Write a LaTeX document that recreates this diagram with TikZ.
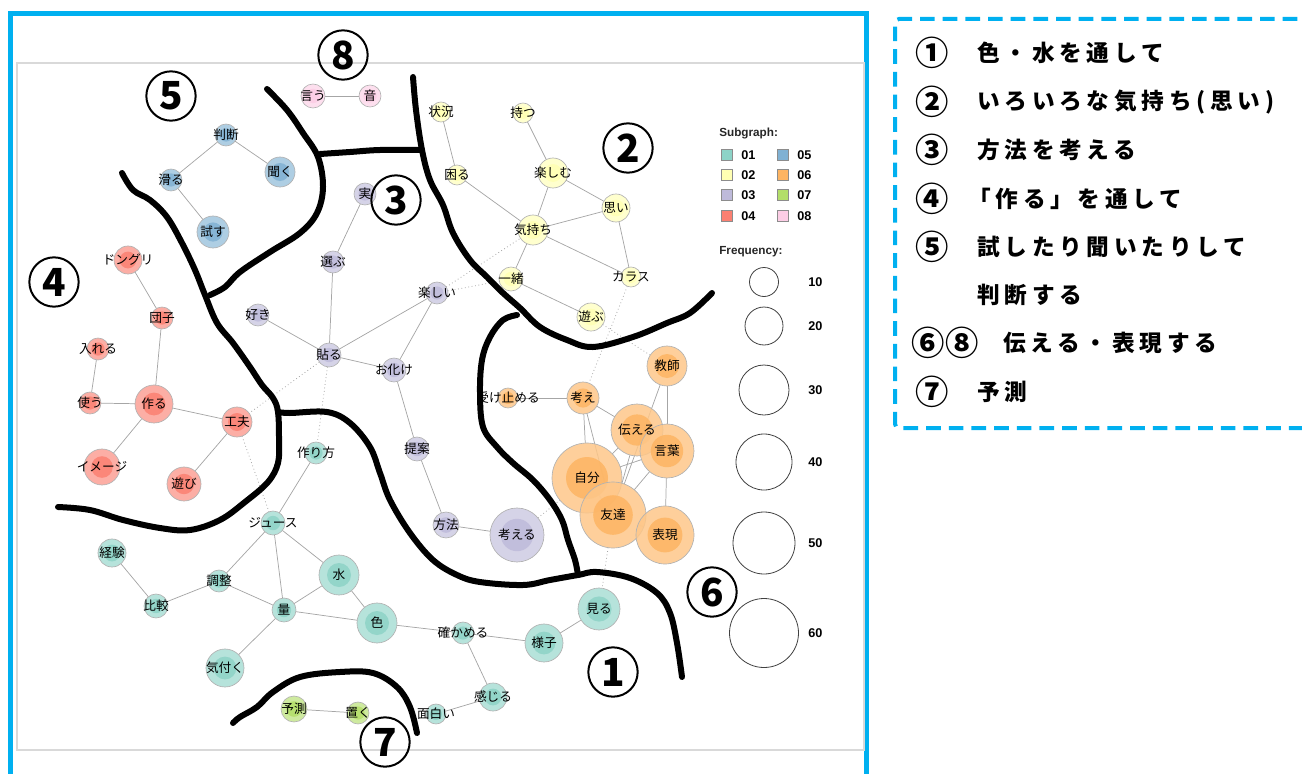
\documentclass[tikz,border=0pt]{standalone}
\usepackage{fontspec}
\setmainfont{Liberation Sans}
\newfontfamily\jp{Noto Sans CJK JP}
\newfontfamily\boxfont{Noto Sans CJK JP}[LetterSpace=21]
\newfontfamily\lgfont{Liberation Sans}
\usetikzlibrary{backgrounds}
\definecolor{frameblue}{HTML}{00B0F0}
\definecolor{c01}{HTML}{8DD3C7}
\definecolor{c02}{HTML}{FFFFB3}
\definecolor{c03}{HTML}{BEBADA}
\definecolor{c04}{HTML}{FB8072}
\definecolor{c05}{HTML}{80B1D3}
\definecolor{c06}{HTML}{FDB462}
\definecolor{c07}{HTML}{B3DE69}
\definecolor{c08}{HTML}{FCCDE5}
\makeatletter
\newcommand\KwLabels{}
\newcommand\KwNode[6]{\node[kw={#4}{#5}] (#1) at (#2,#3) {};\g@addto@macro\KwLabels{\node[kwt] at (#1) {#6};}}
\makeatother
\tikzset{
  kw/.style 2 args={circle, inner sep=0pt, outer sep=0pt, minimum size=#1*1.5pt,
    draw=black!30, line width=0.5pt, fill=#2!75!white, fill opacity=0.85,
    path picture={\fill[#2] (path picture bounding box.center) circle[radius=#1*0.45pt];}},
  kwt/.style={font=\jp\fontsize{9.5}{9.5}\selectfont, text=black, inner sep=0pt, fill opacity=1, text opacity=1},
  edgeline/.style={draw=black!35, line width=0.55pt},
  dotedge/.style={draw=black!35, line width=0.6pt, dotted},
  bound/.style={line width=4.5pt, line cap=round, line join=round},
  cnum/.style={circle, draw, line width=1.5pt, minimum size=37pt, inner sep=0pt,
    font=\jp\bfseries\fontsize{29}{29}\selectfont},
  boxtxt/.style={anchor=west, inner sep=0pt, font=\boxfont\bfseries\fontsize{17}{17}\selectfont},
  boxnum/.style={inner sep=0pt, font=\jp\bfseries\fontsize{25}{25}\selectfont},
  lgsq/.style={draw=black!45, line width=0.5pt, minimum size=8pt, inner sep=0pt},
  lgtxt/.style={anchor=west, inner sep=0pt, font=\lgfont\bfseries\fontsize{9.5}{10}\selectfont},
  lgtitle/.style={anchor=west, inner sep=0pt, font=\lgfont\bfseries\fontsize{8.8}{9}\selectfont, text=black!85},
  lgcirc/.style={circle, draw=black!75, line width=0.6pt, inner sep=0pt},
}
\begin{document}
\begin{tikzpicture}[x=0.75pt,y=-0.75pt]
\useasboundingbox (0,0) rectangle (1302,774);
\clip (0,0) rectangle (1302,774);

% frames
\draw[frameblue, line width=3.75pt] (10,14) rectangle (866,790);
\draw[black!15, line width=1.6pt] (17,63) rectangle (864,750);
\draw[frameblue, line width=3pt, dash pattern=on 11pt off 6pt, rounded corners=3pt]
  (1320,19) -- (895,19) -- (895,428) -- (1320,428);

% ---------- nodes ----------
% 08
\KwNode{iu}{313}{96}{12}{c08}{言う}
\KwNode{oto}{370}{96}{11}{c08}{音}
% 05
\KwNode{handan}{226}{135}{11}{c05}{判断}
\KwNode{suberu}{171}{180}{11}{c05}{滑る}
\KwNode{kiku}{280}{172}{15}{c05}{聞く}
\KwNode{tamesu}{213}{232}{16}{c05}{試す}
% 03
\KwNode{jitsu}{365}{194}{11}{c03}{実}
\KwNode{erabu}{333}{262}{11}{c03}{選ぶ}
\KwNode{suki}{258}{315}{11}{c03}{好き}
\KwNode{tanoshii}{437}{293}{11}{c03}{楽しい}
\KwNode{haru}{329}{355}{12}{c03}{貼る}
\KwNode{obake}{394}{370}{12}{c03}{お化け}
\KwNode{teian}{417}{449}{12}{c03}{提案}
\KwNode{houhou}{446}{525}{13}{c03}{方法}
\KwNode{kangaeru}{517}{535}{27}{c03}{考える}
% 02
\KwNode{joukyou}{441}{112}{10}{c02}{状況}
\KwNode{motsu}{523}{113}{10}{c02}{持つ}
\KwNode{komaru}{457}{175}{10}{c02}{困る}
\KwNode{tanoshimu}{553}{173}{15}{c02}{楽しむ}
\KwNode{omoi}{616}{208}{14}{c02}{思い}
\KwNode{kimochi}{533}{230}{15}{c02}{気持ち}
\KwNode{issho}{511}{279}{12}{c02}{一緒}
\KwNode{karasu}{631}{277}{10}{c02}{カラス}
\KwNode{asobu}{591}{317}{14}{c02}{遊ぶ}
% 06
\KwNode{kyoushi}{667}{366}{20}{c06}{教師}
\KwNode{uketomeru}{508}{398}{10}{c06}{受け止める}
\KwNode{kangae}{583}{398}{16}{c06}{考え}
\KwNode{tsutaeru}{637}{430}{26}{c06}{伝える}
\KwNode{kotoba}{667}{451}{27}{c06}{言葉}
\KwNode{jibun}{587}{478}{35}{c06}{自分}
\KwNode{tomodachi}{613}{515}{33}{c06}{友達}
\KwNode{hyougen}{665}{535}{29}{c06}{表現}
% 04
\KwNode{donguri}{128}{260}{14}{c04}{ドングリ}
\KwNode{dango}{162}{318}{11}{c04}{団子}
\KwNode{ireru}{98}{349}{11}{c04}{入れる}
\KwNode{tsukau}{90}{403}{11}{c04}{使う}
\KwNode{tsukuru}{154}{404}{19}{c04}{作る}
\KwNode{kufuu}{237}{422}{15}{c04}{工夫}
\KwNode{image}{102}{467}{18}{c04}{イメージ}
\KwNode{asobi}{184}{484}{17}{c04}{遊び}
% 01
\KwNode{juice}{273}{523}{12}{c01}{ジュース}
\KwNode{keiken}{112}{553}{14}{c01}{経験}
\KwNode{chousei}{219}{581}{11}{c01}{調整}
\KwNode{hikaku}{156}{606}{12}{c01}{比較}
\KwNode{ryou}{284}{610}{12}{c01}{量}
\KwNode{mizu}{339}{575}{20}{c01}{水}
\KwNode{iro}{377}{623}{20}{c01}{色}
\KwNode{kizuku}{225}{668}{19}{c01}{気付く}
\KwNode{tsukurikata}{316}{453}{11}{c01}{作り方}
\KwNode{miru}{599}{609}{21}{c01}{見る}
\KwNode{tashikameru}{463}{633}{11}{c01}{確かめる}
\KwNode{yousu}{544}{643}{19}{c01}{様子}
\KwNode{kanjiru}{493}{697}{14}{c01}{感じる}
\KwNode{omoshiroi}{436}{714}{10}{c01}{面白い}
% 07
\KwNode{yosoku}{294}{709}{13}{c07}{予測}
\KwNode{oku}{358}{713}{11}{c07}{置く}

% ---------- edges ----------
\begin{scope}[on background layer]
\draw[edgeline] (iu) -- (oto);
\draw[edgeline] (handan) -- (suberu);
\draw[edgeline] (handan) -- (kiku);
\draw[edgeline] (suberu) -- (tamesu);
\draw[edgeline] (jitsu) -- (erabu);
\draw[edgeline] (erabu) -- (haru);
\draw[edgeline] (suki) -- (haru);
\draw[edgeline] (haru) -- (tanoshii);
\draw[edgeline] (haru) -- (obake);
\draw[edgeline] (tanoshii) -- (obake);
\draw[edgeline] (obake) -- (teian);
\draw[edgeline] (teian) -- (houhou);
\draw[edgeline] (houhou) -- (kangaeru);
\draw[edgeline] (joukyou) -- (komaru);
\draw[edgeline] (komaru) -- (kimochi);
\draw[edgeline] (motsu) -- (tanoshimu);
\draw[edgeline] (tanoshimu) -- (kimochi);
\draw[edgeline] (tanoshimu) -- (omoi);
\draw[edgeline] (omoi) -- (kimochi);
\draw[edgeline] (omoi) -- (karasu);
\draw[edgeline] (kimochi) -- (karasu);
\draw[edgeline] (kimochi) -- (issho);
\draw[edgeline] (issho) -- (asobu);
\draw[edgeline] (uketomeru) -- (kangae);
\draw[edgeline] (kangae) -- (tsutaeru);
\draw[edgeline] (kangae) -- (jibun);
\draw[edgeline] (kangae) -- (tomodachi);
\draw[edgeline] (kyoushi) -- (tomodachi);
\draw[edgeline] (kyoushi) -- (kotoba);
\draw[edgeline] (kotoba) -- (hyougen);
\draw[edgeline] (tsutaeru) -- (jibun);
\draw[edgeline] (tsutaeru) -- (tomodachi);
\draw[edgeline] (jibun) -- (kotoba);
\draw[edgeline] (tomodachi) -- (kotoba);
\draw[edgeline] (jibun) -- (tomodachi);
\draw[edgeline] (tomodachi) -- (hyougen);
\draw[edgeline] (donguri) -- (dango);
\draw[edgeline] (dango) -- (tsukuru);
\draw[edgeline] (ireru) -- (tsukau);
\draw[edgeline] (tsukau) -- (tsukuru);
\draw[edgeline] (tsukuru) -- (kufuu);
\draw[edgeline] (tsukuru) -- (image);
\draw[edgeline] (kufuu) -- (asobi);
\draw[edgeline] (juice) -- (tsukurikata);
\draw[edgeline] (juice) -- (chousei);
\draw[edgeline] (juice) -- (ryou);
\draw[edgeline] (juice) -- (mizu);
\draw[edgeline] (keiken) -- (hikaku);
\draw[edgeline] (hikaku) -- (chousei);
\draw[edgeline] (chousei) -- (ryou);
\draw[edgeline] (ryou) -- (mizu);
\draw[edgeline] (ryou) -- (iro);
\draw[edgeline] (ryou) -- (kizuku);
\draw[edgeline] (mizu) -- (iro);
\draw[edgeline] (iro) -- (tashikameru);
\draw[edgeline] (tashikameru) -- (yousu);
\draw[edgeline] (yousu) -- (miru);
\draw[edgeline] (tashikameru) -- (kanjiru);
\draw[edgeline] (kanjiru) -- (omoshiroi);
\draw[edgeline] (yosoku) -- (oku);
\draw[dotedge] (tanoshii) -- (kimochi);
\draw[dotedge] (tanoshii) -- (issho);
\draw[dotedge] (haru) -- (kufuu);
\draw[dotedge] (haru) -- (tsukurikata);
\draw[dotedge] (kufuu) -- (juice);
\draw[dotedge] (karasu) -- (kangae);
\draw[dotedge] (asobu) -- (kyoushi);
\draw[dotedge] (kangaeru) -- (jibun);
\draw[dotedge] (tomodachi) -- (miru);
\end{scope}

\KwLabels

% ---------- legend ----------
\node[lgtitle] (lgS) at (719,133) {Subgraph:};
\node[lgsq, fill=c01] (q1) at (727,155) {};
\node[lgsq, fill=c02] (q2) at (727,175) {};
\node[lgsq, fill=c03] (q3) at (727,195) {};
\node[lgsq, fill=c04] (q4) at (727,216) {};
\node[lgsq, fill=c05] (q5) at (783,155) {};
\node[lgsq, fill=c06] (q6) at (783,175) {};
\node[lgsq, fill=c07] (q7) at (783,195) {};
\node[lgsq, fill=c08] (q8) at (783,216) {};
\node[lgtxt] (l1) at (741,155) {01};
\node[lgtxt] (l2) at (741,175) {02};
\node[lgtxt] (l3) at (741,195) {03};
\node[lgtxt] (l4) at (741,216) {04};
\node[lgtxt] (l5) at (797,155) {05};
\node[lgtxt] (l6) at (797,175) {06};
\node[lgtxt] (l7) at (797,195) {07};
\node[lgtxt] (l8) at (797,216) {08};
\node[lgtitle] (lgF) at (719,252) {Frequency:};
\node[lgcirc, minimum size=21.75pt] (f10) at (764,282) {};
\node[lgcirc, minimum size=28.5pt] (f20) at (764,326) {};
\node[lgcirc, minimum size=37.5pt] (f30) at (764,390) {};
\node[lgcirc, minimum size=42pt] (f40) at (764,462) {};
\node[lgcirc, minimum size=46.5pt] (f50) at (764,543) {};
\node[lgcirc, minimum size=51.75pt] (f60) at (764,633) {};
\node[lgtxt] (n10) at (808,282) {10};
\node[lgtxt] (n20) at (808,326) {20};
\node[lgtxt] (n30) at (808,390) {30};
\node[lgtxt] (n40) at (808,462) {40};
\node[lgtxt] (n50) at (808,543) {50};
\node[lgtxt] (n60) at (808,633) {60};

% ---------- hand-drawn boundaries ----------
\draw[bound] plot[smooth, tension=0.6] coordinates {(267,89) (287,110) (303,133) (318,157) (323,187) (317,213) (300,233) (270,252) (240,272) (225,287) (210,295)};
\draw[bound] plot[smooth, tension=0.6] coordinates {(320,154) (350,152) (380,150) (422,150)};
\draw[bound] plot[smooth, tension=0.6] coordinates {(413,77) (416,110) (422,150) (430,180) (443,205) (453,233) (470,260) (487,277) (503,293) (520,308) (540,327) (567,340) (593,347) (633,337) (667,323) (690,313) (712,293)};
\draw[bound] plot[smooth, tension=0.6] coordinates {(122,173) (133,190) (150,200) (167,217) (182,243) (195,270) (205,295) (217,323) (233,343) (250,367) (262,385) (273,398) (278,412) (279,440) (278,463) (268,482) (245,502) (220,520) (190,530) (160,528) (123,520) (90,510) (58,507)};
\draw[bound] plot[smooth, tension=0.6] coordinates {(278,412) (290,413) (327,412) (350,423) (370,447) (380,473) (390,500) (410,533) (433,560) (457,575) (480,582) (523,585) (550,580) (578,575) (597,572) (630,578) (657,593) (670,613) (677,643) (682,677)};
\draw[bound] plot[smooth, tension=0.6] coordinates {(578,575) (575,560) (568,540) (562,520) (550,500) (533,480) (513,463) (497,447) (483,427) (480,393) (482,360) (490,337) (503,320) (517,315)};
\draw[bound] plot[smooth, tension=0.6] coordinates {(233,723) (240,717) (257,707) (273,692) (300,677) (340,672) (373,673) (397,687) (410,707) (417,733)};

% ---------- circled region numbers ----------
\node[cnum] (r8) at (343,55) {8};
\node[cnum] (r5) at (171,96) {5};
\node[cnum] (r3) at (396,200) {3};
\node[cnum] (r2) at (628,148) {2};
\node[cnum] (r4) at (54,282) {4};
\node[cnum] (r6) at (712,592) {6};
\node[cnum] (r1) at (613,672) {1};
\node[cnum] (r7) at (385,742) {7};

% ---------- explanation box ----------
\node[boxnum] (b1) at (932,53) {①};
\node[boxnum] (b2) at (932,102) {②};
\node[boxnum] (b3) at (932,150) {③};
\node[boxnum] (b4) at (932,199) {④};
\node[boxnum] (b5) at (932,247) {⑤};
\node[boxnum] (b68) at (945,343) {⑥⑧};
\node[boxnum] (b7) at (932,392) {⑦};
\node[boxtxt] (t1) at (977,53) {色・水を通して};
\node[boxtxt] (t2) at (977,102) {いろいろな気持ち(思い)};
\node[boxtxt] (t3) at (977,150) {方法を考える};
\node[boxtxt] (t4) at (968,199) {「作る」を通して};
\node[boxtxt] (t5) at (977,247) {試したり聞いたりして};
\node[boxtxt] (t5b) at (977,295) {判断する};
\node[boxtxt] (t6) at (1003,343) {伝える・表現する};
\node[boxtxt] (t7) at (977,392) {予測};
\end{tikzpicture}
\end{document}
